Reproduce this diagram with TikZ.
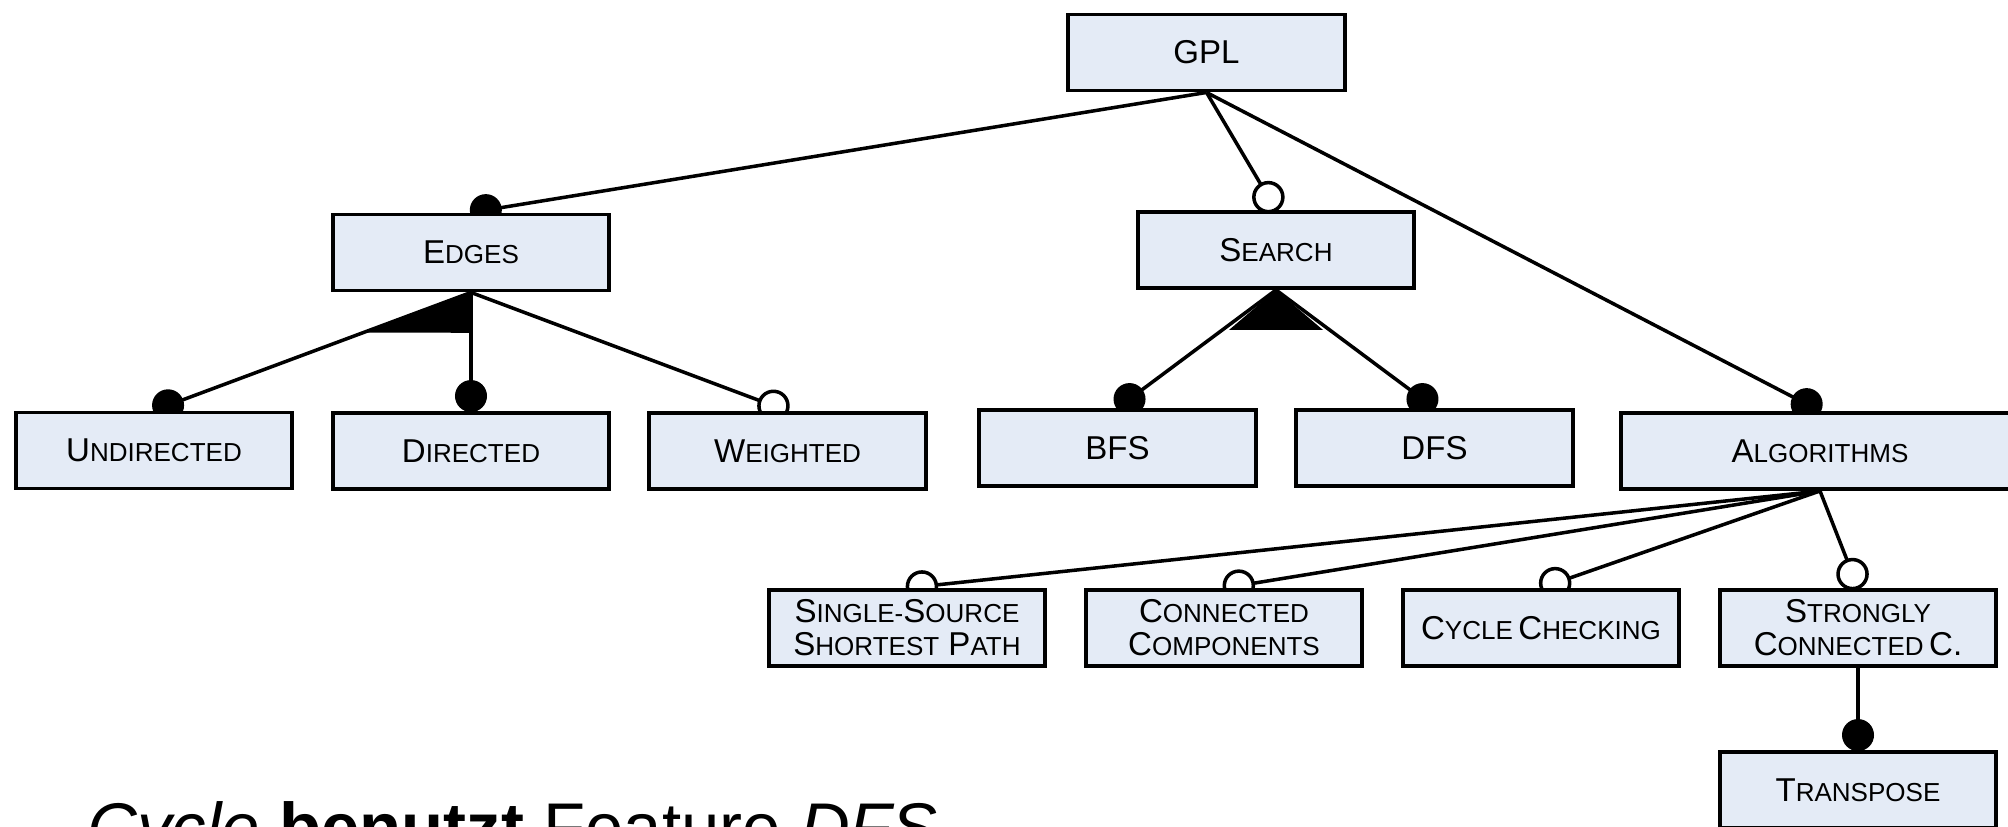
\documentclass[tikz,border=0pt]{standalone}
\usepackage{fontspec}
\setmainfont{Liberation Sans}
\usetikzlibrary{calc}
\pgfdeclarelayer{bg}
\pgfsetlayers{bg,main}
\definecolor{featfill}{RGB}{228,235,246}
% small caps imitation: first letter full size, rest as smaller capitals
\newcommand\fsc[2]{#1{\fontsize{7.4}{8}\selectfont #2}}

\begin{document}
\begin{tikzpicture}[x=0.01cm,y=-0.01cm,
  feat/.style={draw=black, line width=1.1pt, fill=featfill,
    minimum width=2.76cm, minimum height=0.76cm, inner sep=0pt,
    align=center, font=\fontsize{9.4}{9.4}\selectfont},
  link/.style={line width=1pt},
  mand/.style={fill=black},
  opt/.style={fill=white, draw=black, line width=1pt},
  grp/.style={fill=black},
]
\useasboundingbox (0,0) rectangle (2008,827);
\clip (0,0) rectangle (2008,827);

% features
\node[feat] (gpl)        at (1206.5,52.5) {GPL};
\node[feat] (edges)      at (471,252.5)   {\fsc{E}{DGES}};
\node[feat] (search)     at (1276,250)    {\fsc{S}{EARCH}};
\node[feat] (undirected) at (154,450.5)   {\fsc{U}{NDIRECTED}};
\node[feat] (directed)   at (471,451)     {\fsc{D}{IRECTED}};
\node[feat] (weighted)   at (787.5,451)   {\fsc{W}{EIGHTED}};
\node[feat] (bfs)        at (1117.5,448)  {BFS};
\node[feat] (dfs)        at (1434.5,448)  {DFS};
\node[feat, minimum width=3.97cm] (algorithms) at (1820,451) {\fsc{A}{LGORITHMS}};
\node[feat] (sssp)       at (907,628)     {\fsc{S}{INGLE-}\fsc{S}{OURCE}\\\fsc{S}{HORTEST} \fsc{P}{ATH}};
\node[feat] (cc)         at (1224,628)    {\fsc{C}{ONNECTED}\\\fsc{C}{OMPONENTS}};
\node[feat] (cycle)      at (1541,628)    {\fsc{C}{YCLE}\,\fsc{C}{HECKING}};
\node[feat] (scc)        at (1858,628)    {\fsc{S}{TRONGLY}\\\fsc{C}{ONNECTED}\,C.};
\node[feat] (transpose)  at (1858,790)    {\fsc{T}{RANSPOSE}};

\begin{pgfonlayer}{bg}
  % connectors
  \draw[link] (gpl.south) -- (edges.north);
  \draw[link] (gpl.south) -- (search.north);
  \draw[link] (gpl.south) -- (algorithms.north);
  \draw[link] (edges.south) -- (undirected.north);
  \draw[link] (edges.south) -- (directed.north);
  \draw[link] (edges.south) -- (weighted.north);
  \draw[link] (search.south) -- (bfs.north);
  \draw[link] (search.south) -- (dfs.north);
  \draw[link] (algorithms.south) -- (sssp.north);
  \draw[link] (algorithms.south) -- (cc.north);
  \draw[link] (algorithms.south) -- (cycle.north);
  \draw[link] (algorithms.south) -- (scc.north);
  \draw[link] (scc.south) -- (transpose.north);

  % group markers
  \fill[grp] (edges.south) -- ($(edges.south)!0.34!(undirected.north)$)
    -- ($(edges.south)!0.34!(directed.north)$) -- cycle;
  \fill[grp] (search.south) -- ($(search.south)+(-47,40)$)
    -- ($(search.south)+(47,40)$) -- cycle;

  % mandatory features
  \fill[mand] ($(edges.north)!0.15cm!(gpl.south)$) circle (0.16cm);
  \fill[mand] ($(algorithms.north)!0.15cm!(gpl.south)$) circle (0.16cm);
  \fill[mand] ($(undirected.north)!0.15cm!(edges.south)$) circle (0.16cm);
  \fill[mand] ($(directed.north)!0.15cm!(edges.south)$) circle (0.16cm);
  \fill[mand] ($(bfs.north)!0.15cm!(search.south)$) circle (0.16cm);
  \fill[mand] ($(dfs.north)!0.15cm!(search.south)$) circle (0.16cm);
  \fill[mand] ($(transpose.north)!0.15cm!(scc.south)$) circle (0.16cm);

  % optional features
  \draw[opt] ($(search.north)!0.15cm!(gpl.south)$) circle (0.145cm);
  \draw[opt] ($(weighted.north)!0.15cm!(edges.south)$) circle (0.145cm);
  \draw[opt] ($(sssp.north)!0.15cm!(algorithms.south)$) circle (0.145cm);
  \draw[opt] ($(cc.north)!0.15cm!(algorithms.south)$) circle (0.145cm);
  \draw[opt] ($(cycle.north)!0.15cm!(algorithms.south)$) circle (0.145cm);
  \draw[opt] ($(scc.north)!0.15cm!(algorithms.south)$) circle (0.145cm);
\end{pgfonlayer}

% caption line
\node[anchor=base west, inner sep=0pt, font=\fontsize{19.6}{24}\selectfont]
  (caption) at (87,851) {\textit{Cycle} \textbf{benutzt} Feature \textit{DFS}};
\end{tikzpicture}
\end{document}
